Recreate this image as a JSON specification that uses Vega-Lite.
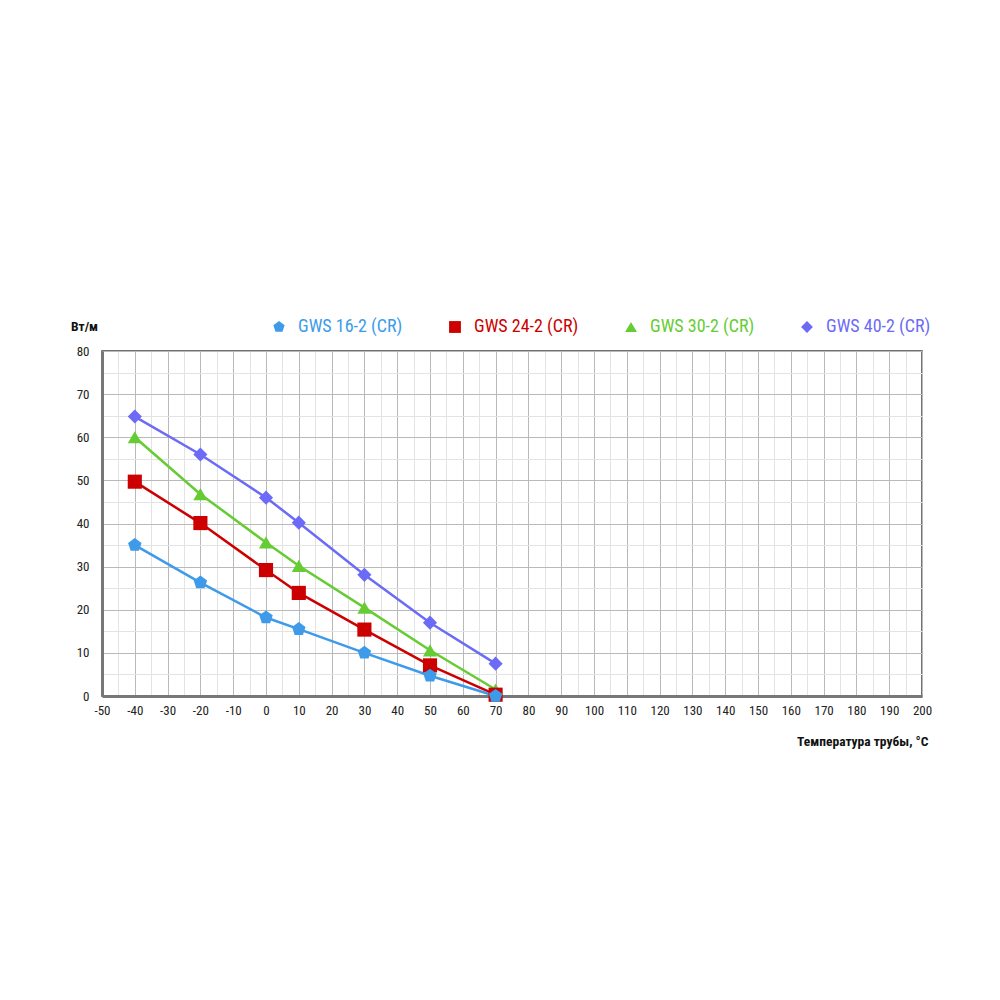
{
  "$schema": "https://vega.github.io/schema/vega-lite/v6.json",
  "autosize": "none",
  "padding": {"left": 102, "top": 351, "right": 78, "bottom": 304},
  "width": 820,
  "height": 345,
  "background": "white",
  "config": {
    "font": "Roboto Condensed, Liberation Sans Narrow, Roboto, sans-serif",
    "view": {"stroke": "#444", "strokeWidth": 1.5},
    "axis": {
      "labelFont": "Roboto Condensed, Liberation Sans Narrow, Roboto, sans-serif",
      "labelFontSize": 13,
      "labelFontWeight": "normal",
      "labelColor": "#222",
      "ticks": false,
      "domainColor": "#777",
      "domainWidth": 3,
      "gridWidth": 1,
      "titleFont": "Roboto Condensed, Liberation Sans Narrow, Roboto, sans-serif",
      "titleFontSize": 13.5,
      "titleFontWeight": "bold",
      "titleColor": "#111"
    }
  },
  "data": {
    "values": [
      {"model": "GWS 40-2 (CR)", "t": -40, "w": 64.8},
      {"model": "GWS 40-2 (CR)", "t": -20, "w": 56.0},
      {"model": "GWS 40-2 (CR)", "t": 0, "w": 46.0},
      {"model": "GWS 40-2 (CR)", "t": 10, "w": 40.2},
      {"model": "GWS 40-2 (CR)", "t": 30, "w": 28.1},
      {"model": "GWS 40-2 (CR)", "t": 50, "w": 17.0},
      {"model": "GWS 40-2 (CR)", "t": 70, "w": 7.5},
      {"model": "GWS 30-2 (CR)", "t": -40, "w": 60.0},
      {"model": "GWS 30-2 (CR)", "t": -20, "w": 46.8},
      {"model": "GWS 30-2 (CR)", "t": 0, "w": 35.6},
      {"model": "GWS 30-2 (CR)", "t": 10, "w": 30.2},
      {"model": "GWS 30-2 (CR)", "t": 30, "w": 20.5},
      {"model": "GWS 30-2 (CR)", "t": 50, "w": 10.6},
      {"model": "GWS 30-2 (CR)", "t": 70, "w": 1.5},
      {"model": "GWS 24-2 (CR)", "t": -40, "w": 49.7},
      {"model": "GWS 24-2 (CR)", "t": -20, "w": 40.1},
      {"model": "GWS 24-2 (CR)", "t": 0, "w": 29.2},
      {"model": "GWS 24-2 (CR)", "t": 10, "w": 23.9},
      {"model": "GWS 24-2 (CR)", "t": 30, "w": 15.4},
      {"model": "GWS 24-2 (CR)", "t": 50, "w": 7.1},
      {"model": "GWS 24-2 (CR)", "t": 70, "w": 0.3},
      {"model": "GWS 16-2 (CR)", "t": -40, "w": 35.0},
      {"model": "GWS 16-2 (CR)", "t": -20, "w": 26.3},
      {"model": "GWS 16-2 (CR)", "t": 0, "w": 18.2},
      {"model": "GWS 16-2 (CR)", "t": 10, "w": 15.5},
      {"model": "GWS 16-2 (CR)", "t": 30, "w": 10.0},
      {"model": "GWS 16-2 (CR)", "t": 50, "w": 4.7},
      {"model": "GWS 16-2 (CR)", "t": 70, "w": 0.0}
    ]
  },
  "encoding": {
    "x": {
      "field": "t",
      "type": "quantitative",
      "scale": {"domain": [-50, 200], "nice": false, "zero": false},
      "axis": {
        "title": "Температура трубы, °С",
        "values": [-50, -45, -40, -35, -30, -25, -20, -15, -10, -5, 0, 5, 10, 15, 20, 25, 30, 35, 40, 45, 50, 55, 60, 65, 70, 75, 80, 85, 90, 95, 100, 105, 110, 115, 120, 125, 130, 135, 140, 145, 150, 155, 160, 165, 170, 175, 180, 185, 190, 195, 200],
        "labelExpr": "datum.value % 10 === 0 ? '' + datum.value : ''",
        "labelPadding": 8,
        "labelFlush": false,
        "labelOverlap": false,
        "gridColor": {"condition": {"test": "datum.value % 10 === 0", "value": "#b9b9b9"}, "value": "#e3e3e3"},
        "titleAlign": "right",
        "titleBaseline": "middle",
        "titleX": 826,
        "titleY": 45
      }
    },
    "y": {
      "field": "w",
      "type": "quantitative",
      "scale": {"domain": [0, 80], "nice": false},
      "axis": {
        "title": "Вт/м",
        "values": [0, 5, 10, 15, 20, 25, 30, 35, 40, 45, 50, 55, 60, 65, 70, 75, 80],
        "labelExpr": "datum.value % 10 === 0 ? '' + datum.value : ''",
        "labelPadding": 13,
        "labelFlush": false,
        "labelOverlap": false,
        "gridColor": {"condition": {"test": "datum.value % 10 === 0", "value": "#b9b9b9"}, "value": "#e3e3e3"},
        "titleAngle": 0,
        "titleAlign": "center",
        "titleBaseline": "middle",
        "titleX": -18,
        "titleY": -25
      }
    },
    "color": {
      "field": "model",
      "type": "nominal",
      "scale": {
        "domain": ["GWS 16-2 (CR)", "GWS 24-2 (CR)", "GWS 30-2 (CR)", "GWS 40-2 (CR)"],
        "range": ["#3d9be9", "#cc0000", "#66cc33", "#6b6bf7"]
      },
      "legend": {
        "title": null,
        "orient": "none",
        "legendX": 168,
        "legendY": -33,
        "direction": "horizontal",
        "columns": 4,
        "columnPadding": 43,
        "labelFontSize": 18,
        "labelOffset": 10,
        "symbolSize": 140,
        "symbolStrokeWidth": 0,
        "symbolOpacity": 1,
        "encode": {
          "labels": {"update": {"fill": {"scale": "color", "field": "value"}}}
        }
      }
    }
  },
  "layer": [
    {
      "mark": {"type": "line", "strokeWidth": 2.5}
    },
    {
      "mark": {"type": "point", "filled": true, "opacity": 1, "size": 200},
      "encoding": {
        "shape": {
          "field": "model",
          "type": "nominal",
          "scale": {
            "domain": ["GWS 16-2 (CR)", "GWS 24-2 (CR)", "GWS 30-2 (CR)", "GWS 40-2 (CR)"],
            "range": ["M0,-1L0.951,-0.309L0.588,0.809L-0.588,0.809L-0.951,-0.309Z", "square", "triangle-up", "diamond"]
          }
        }
      }
    }
  ]
}
